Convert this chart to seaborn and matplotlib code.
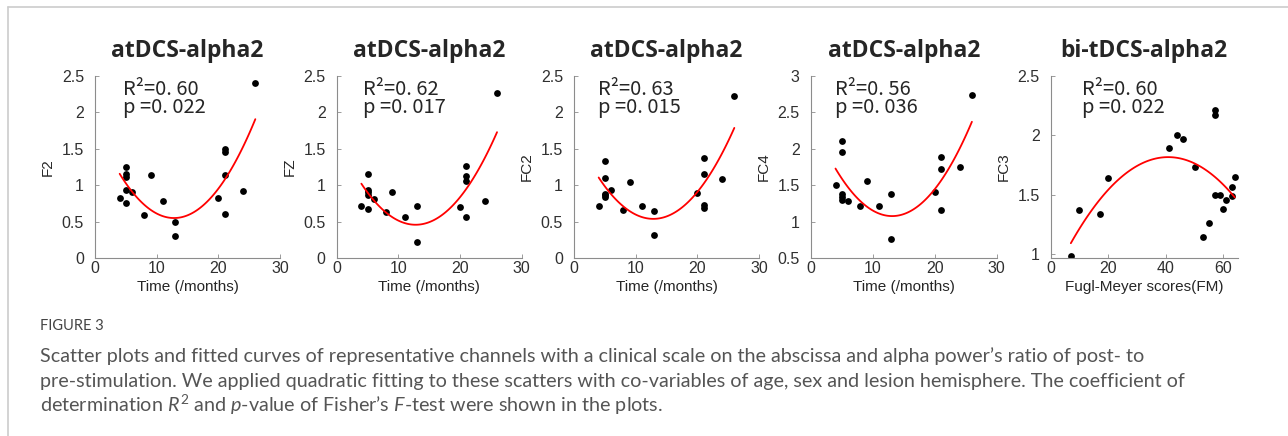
import matplotlib
matplotlib.use('Agg')
import matplotlib.pyplot as plt
from matplotlib.lines import Line2D
import seaborn as sns

sns.set_style('ticks')
plt.rcParams['font.family'] = ['Liberation Sans', 'DejaVu Sans']
plt.rcParams['mathtext.fontset'] = 'custom'
plt.rcParams['mathtext.rm'] = 'Lato'
plt.rcParams['mathtext.it'] = 'Lato:italic'

# x values: months since stroke (panels 1-4), Fugl-Meyer scores (panel 5)
time_months = [4, 5, 5, 5, 5, 5, 6, 8, 9, 11, 13, 13, 20, 21, 21, 21, 21, 24, 26]
fm_scores = [7, 10, 17, 20, 41, 44, 46, 50, 53, 55, 57, 57, 57, 59, 60, 61, 63, 63, 64]

# alpha power ratio post/pre per channel
f2 = [0.82, 1.25, 1.16, 1.11, 0.94, 0.75, 0.91, 0.59, 1.14, 0.78, 0.50, 0.30,
      0.82, 1.50, 1.45, 1.14, 0.60, 0.92, 2.40]
fz = [0.71, 1.15, 0.94, 0.91, 0.86, 0.67, 0.81, 0.63, 0.90, 0.56, 0.71, 0.22,
      0.70, 1.27, 1.12, 1.06, 0.56, 0.78, 2.26]
fc2 = [0.71, 1.33, 1.10, 0.88, 0.86, 0.84, 0.93, 0.66, 1.04, 0.71, 0.65, 0.32,
       0.89, 1.37, 1.15, 0.73, 0.69, 1.08, 2.23]
fc4 = [1.50, 2.11, 1.95, 1.38, 1.34, 1.30, 1.28, 1.22, 1.56, 1.22, 1.38, 0.76,
       1.40, 1.89, 1.72, 1.16, 1.75, 2.74]
fc4_x = [4, 5, 5, 5, 5, 5, 6, 8, 9, 11, 13, 13, 20, 21, 21, 21, 24, 26]
fc3 = [0.98, 1.37, 1.34, 1.64, 1.89, 2.00, 1.97, 1.73, 1.14, 1.26, 2.21, 2.17,
       1.50, 1.50, 1.38, 1.45, 1.56, 1.49, 1.65]

# fitted curve values (start, vertex, end and between)
curve_t = [4, 8, 13, 18, 22, 26]
f2_curve = [1.13, 0.77, 0.56, 0.74, 1.18, 1.93]
fz_curve = [1.00, 0.65, 0.48, 0.63, 1.05, 1.75]
fc2_curve = [1.09, 0.73, 0.55, 0.71, 1.13, 1.80]
fc4_curve = [1.72, 1.30, 1.07, 1.25, 1.70, 2.37]
curve_fm = [7, 20, 30, 41, 52, 64]
fc3_curve = [1.10, 1.52, 1.74, 1.83, 1.74, 1.47]

titles = ['atDCS-alpha2', 'atDCS-alpha2', 'atDCS-alpha2', 'atDCS-alpha2', 'bi-tDCS-alpha2']
ylabels = ['F2', 'FZ', 'FC2', 'FC4', 'FC3']
r2_text = ['R\u00b2=0. 60', 'R\u00b2=0. 62', 'R\u00b2=0. 63', 'R\u00b2=0. 56', 'R\u00b2=0. 60']
p_text = ['p =0. 022', 'p =0. 017', 'p =0. 015', 'p =0. 036', 'p =0. 022']

panels = [
    (time_months, f2, curve_t, f2_curve),
    (time_months, fz, curve_t, fz_curve),
    (time_months, fc2, curve_t, fc2_curve),
    (fc4_x, fc4, curve_t, fc4_curve),
    (fm_scores, fc3, curve_fm, fc3_curve),
]

fig = plt.figure(figsize=(12.88, 4.36), dpi=100)
W, H = 1288, 436
lefts = [95, 336.7, 574, 810.7, 1050.7]
widths = [185, 185, 185, 186, 187]
text_x = [0.15, 0.14, 0.13, 0.13, 0.17]
cjk = ['Noto Sans CJK SC', 'DejaVu Sans']

for i, (xs, ys, cx, cy) in enumerate(panels):
    ax = fig.add_axes([lefts[i] / W, 1 - 258 / H, widths[i] / W, 182 / H])
    sns.regplot(x=cx, y=cy, order=2, scatter=False, ci=None, color='red',
                line_kws=dict(lw=1.3), ax=ax)
    sns.scatterplot(x=xs, y=ys, color='black', s=24, linewidth=0, ax=ax)
    if i < 3:
        ax.set_xlim(0, 30)
        ax.set_ylim(0, 2.5)
        ax.set_yticks([0, 0.5, 1, 1.5, 2, 2.5], ['0', '0.5', '1', '1.5', '2', '2.5'])
    elif i == 3:
        ax.set_xlim(0, 30)
        ax.set_ylim(0.5, 3)
        ax.set_yticks([0.5, 1, 1.5, 2, 2.5, 3], ['0.5', '1', '1.5', '2', '2.5', '3'])
    else:
        ax.set_xlim(0, 65)
        ax.set_ylim(0.965, 2.5)
        ax.set_yticks([1, 1.5, 2, 2.5], ['1', '1.5', '2', '2.5'])
    if i < 4:
        ax.set_xticks([0, 10, 20, 30])
        ax.set_xlabel('Time (/months)', fontsize=11, color='#262626', labelpad=3)
    else:
        ax.set_xticks([0, 20, 40, 60])
        ax.set_xlabel('Fugl-Meyer scores(FM)', fontsize=11, color='#262626', labelpad=3)
    ax.set_ylabel(ylabels[i], fontsize=11, color='#262626', labelpad=5)
    ax.set_title(titles[i], fontsize=16.5, fontweight='bold', family='Open Sans', pad=14)
    sns.despine(ax=ax)
    for s in ['left', 'bottom']:
        ax.spines[s].set_color('#8c8c8c')
        ax.spines[s].set_linewidth(0.8)
    ax.tick_params(direction='in', length=3, width=0.6, color='#8c8c8c',
                   labelsize=11.5, labelcolor='#303030')
    ax.tick_params(axis='y', pad=8)
    ax.tick_params(axis='x', pad=2)
    ax.text(text_x[i], 0.985, r2_text[i] + '\n' + p_text[i], transform=ax.transAxes,
            fontsize=14.5, family=cjk, va='top', ha='left', linespacing=0.82)

# frame lines at top and left
fig.add_artist(Line2D([7.5 / W, 7.5 / W], [0, 1 - 7.5 / H], color='#cccccc', lw=1.2,
                      transform=fig.transFigure))
fig.add_artist(Line2D([7.5 / W, 1], [1 - 7.5 / H, 1 - 7.5 / H], color='#cccccc', lw=1.2,
                      transform=fig.transFigure))

cap_kw = dict(family='Lato', color='#555555', fontsize=14.2, va='center', ha='left')
fig.text(40 / W, 1 - 326 / H, 'FIGURE 3', family='Lato', color='#444444', fontsize=10.5,
         va='center', ha='left')
fig.text(40 / W, 1 - 356 / H,
         "Scatter plots and fitted curves of representative channels with a clinical scale on the abscissa and alpha power\u2019s ratio of post- to",
         **cap_kw)
fig.text(40 / W, 1 - 381 / H,
         'pre-stimulation. We applied quadratic fitting to these scatters with co-variables of age, sex and lesion hemisphere. The coefficient of',
         **cap_kw)
fig.text(40 / W, 1 - 405 / H,
         'determination $R^2$ and $p$-value of Fisher\u2019s $F$-test were shown in the plots.',
         **cap_kw)

fig.savefig('out.png', dpi=100)
